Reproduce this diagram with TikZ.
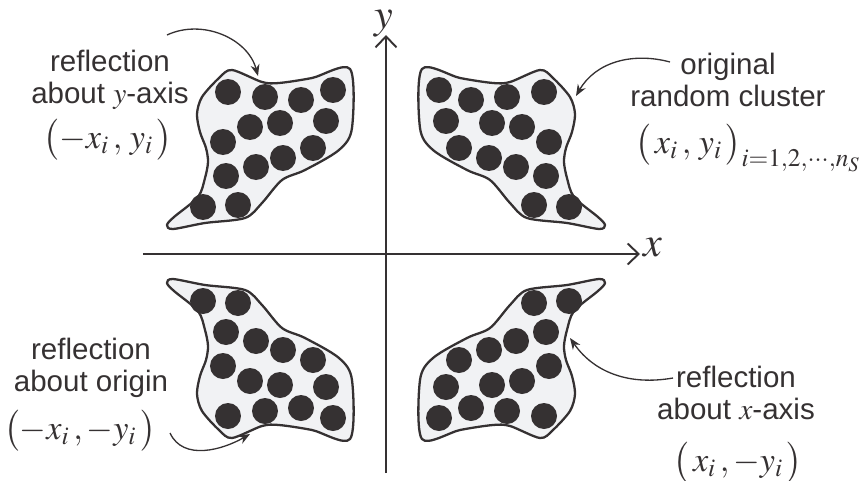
\documentclass[tikz,border=0pt]{standalone}
\usepackage{mathptmx}
\usepackage[no-math]{fontspec}
\setmainfont{Liberation Sans}
\usetikzlibrary{arrows.meta, positioning}
\definecolor{ink}{HTML}{353132}
\definecolor{haze}{HTML}{F1F2F4}
\newcommand{\drawcluster}{%
  \draw[blob] plot[smooth cycle, tension=0.5] coordinates {
    (36,185) (74,176) (107,171) (124,172) (154,184) (167,176) (184,157)
    (189,140) (186,122) (180,106) (178,92) (181,76) (188,57) (212,37)
    (219,29) (213,25) (181,31) (141,36) (124,51) (104,74) (81,84)
    (47,104) (34,126)};
  \foreach \px/\py in {53/164, 85/154, 121/157, 158/162, 60/133, 106/131,
      136/127, 163/112, 73/106, 103/96, 130/87, 160/78, 148/49, 183/47}
    \fill[dot] (\px,\py) circle[radius=13];
}

\begin{document}
\begin{tikzpicture}[
    x=0.02cm, y=0.02cm,
    >={Stealth[length=2.3mm, width=1.8mm]},
    axis/.style ={ink, line width=1.1pt, -{Straight Barb[length=2.2mm, width=4.2mm]}},
    blob/.style ={draw=ink, line width=1.3pt, fill=haze},
    dot/.style  ={fill=ink},
    lbl/.style  ={align=center, text=ink, inner sep=0pt,
                  font=\fontsize{16.8}{18.5}\selectfont},
    pair/.style ={text=ink, inner sep=0pt, anchor=base,
                  font=\fontsize{19.5}{23}\selectfont},
    axlab/.style={text=ink, inner sep=0pt, font=\fontsize{24}{28}\selectfont},
    conn/.style ={->, ink, line width=0.75pt},
]
\useasboundingbox (-386,-226) rectangle (475,254);
\drawcluster
\begin{scope}[xscale=-1]\drawcluster\end{scope}
\begin{scope}[yscale=-1]\drawcluster\end{scope}
\begin{scope}[scale=-1]\drawcluster\end{scope}
\draw[axis] (-243,0) -- (254,0);
\draw[axis] (0,-219) -- (0,219);
\node[axlab, anchor=base west] (xlab) at (257,-2) {$x$};
\node[axlab, anchor=base]      (ylab) at (-2,225) {$y$};
\node[lbl]  (tr) at (342,174)  {original\\random cluster};
\node[pair, anchor=base west] (trp) at (249,101)
      {$\bigl(\,x_i\,,\,y_i\,\bigr)_{i=1,2,\cdots,n_S}$};
\node[lbl]  (tl) at (-276,174) {reflection\\about $y$-axis};
\node[pair] (tlp) at (-278,106) {$\bigl(-x_i\,,\,y_i\,\bigr)$};
\node[lbl]  (bl) at (-295,-114) {reflection\\about origin};
\node[pair] (blp) at (-306,-185) {$\bigl(-x_i\,,-y_i\,\bigr)$};
\node[lbl]  (br) at (350,-139) {reflection\\about $x$-axis};
\node[pair] (brp) at (352,-217) {$\bigl(\,x_i\,,-y_i\,\bigr)$};
\coordinate (tlFrom) at (-219,219);
\coordinate (tlTip)  at (-128,178);
\coordinate (trFrom) at (284,192);
\coordinate (trTip)  at (190,158);
\coordinate (blFrom) at (-216,-179);
\coordinate (blTip)  at (-136,-180);
\coordinate (brFrom) at (287,-124);
\coordinate (brTip)  at (184,-84);
\draw[conn] (tlFrom) to[out=25, in=105] (tlTip);
\draw[conn] (trFrom) to[out=165, in=60] (trTip);
\draw[conn] (blFrom) to[out=-65, in=210] (blTip);
\draw[conn] (brFrom) to[out=190, in=-55] (brTip);
\end{tikzpicture}
\end{document}
